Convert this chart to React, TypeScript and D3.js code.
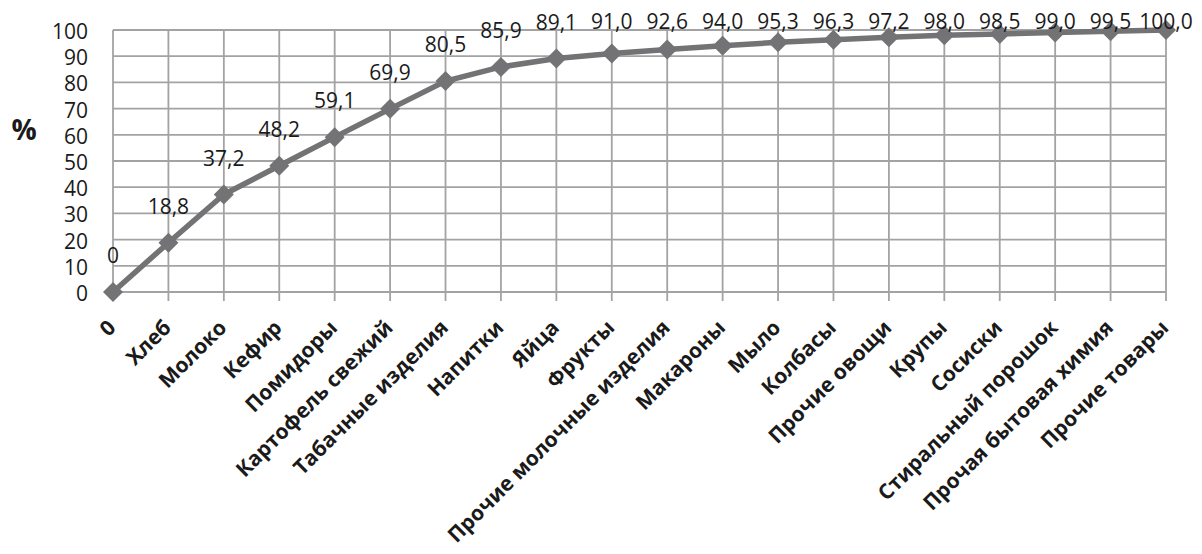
import React from 'react';
import * as d3 from 'd3';

// категории (ось X) и накопленный процент
const categories = [
  '0', 'Хлеб', 'Молоко', 'Кефир', 'Помидоры', 'Картофель свежий', 'Табачные изделия',
  'Напитки', 'Яйца', 'Фрукты', 'Прочие молочные изделия', 'Макароны', 'Мыло', 'Колбасы',
  'Прочие овощи', 'Крупы', 'Сосиски', 'Стиральный порошок', 'Прочая бытовая химия', 'Прочие товары',
];
const values = [0, 18.8, 37.2, 48.2, 59.1, 69.9, 80.5, 85.9, 89.1, 91.0, 92.6, 94.0, 95.3, 96.3, 97.2, 98.0, 98.5, 99.0, 99.5, 100.0];
const yTicks = [0, 10, 20, 30, 40, 50, 60, 70, 80, 90, 100];

const W = 1202;
const H = 554;
const left = 113, right = 1166, top = 30, bottom = 292;

const gridColor = '#a3a3a3';
const lineColor = '#737376';
const textColor = '#1a1a1a';

const fmt = (v: number, i: number) => (i === 0 ? '0' : v.toFixed(1).replace('.', ','));

export default function App() {
  const x = d3.scalePoint<string>().domain(categories).range([left, right]);
  const y = d3.scaleLinear().domain([0, 100]).range([bottom, top]);

  const line = d3.line<number>()
    .x((_, i) => x(categories[i]) as number)
    .y(d => y(d));

  // ромб = квадрат, повёрнутый на 45°
  const marker = d3.symbol().type(d3.symbolSquare).size(200)();

  return (
    <svg width={W} height={H} style={{ position: 'absolute', left: 0, top: 0, background: '#fff' }}
      fontFamily="'Open Sans', sans-serif">
      {/* горизонтальная сетка */}
      {yTicks.map(t => (
        <line key={'h' + t} x1={left} x2={right} y1={y(t)} y2={y(t)} stroke={gridColor} strokeWidth={1.8} />
      ))}
      {/* вертикальная сетка + засечки */}
      {categories.map(c => (
        <line key={'v' + c} x1={x(c)} x2={x(c)} y1={top} y2={bottom + 9} stroke={gridColor} strokeWidth={1.8} />
      ))}
      {/* подписи оси Y */}
      {yTicks.map(t => (
        <text key={'yt' + t} x={88} y={y(t) + 1.5} dy="0.36em" textAnchor="end" fontSize={21} fill={textColor}>{t}</text>
      ))}
      <text x={24} y={140} textAnchor="middle" fontSize={28} fontWeight="bold" fill={textColor}>%</text>

      {/* линия */}
      <path d={line(values) ?? ''} fill="none" stroke={lineColor} strokeWidth={5.5} strokeLinejoin="round" />
      {values.map((v, i) => (
        <path key={'m' + i} d={marker ?? ''} transform={`translate(${x(categories[i])},${y(v)}) rotate(45)`} fill={lineColor} />
      ))}

      {/* подписи значений (не выше верхней границы области построения) */}
      {values.map((v, i) => (
        <text key={'l' + i} x={x(categories[i])} y={Math.max(y(v) - 29, 29)} textAnchor="middle" fontSize={21} fill={textColor}>
          {fmt(v, i)}
        </text>
      ))}

      {/* подписи категорий */}
      {categories.map(c => (
        <text key={'c' + c} transform={`translate(${(x(c) as number) + 4},${bottom + 37}) rotate(-45)`}
          textAnchor="end" fontSize={21} fontWeight="bold" fill={textColor}>
          {c}
        </text>
      ))}
    </svg>
  );
}
